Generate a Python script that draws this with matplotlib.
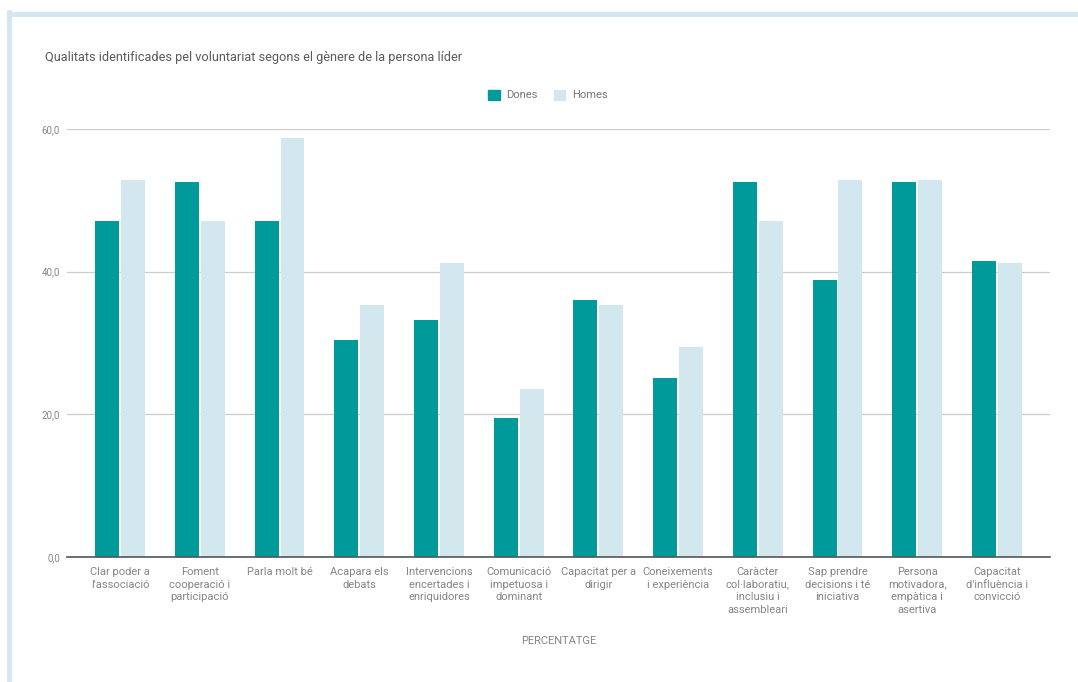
import numpy as np
import matplotlib.pyplot as plt
from matplotlib.lines import Line2D

plt.rcParams['font.family'] = ['Roboto', 'DejaVu Sans']

# data
categories = ["Clar poder a\nl'associació", "Foment\ncooperació i\nparticipació",
              "Parla molt bé", "Acapara els\ndebats",
              "Intervencions\nencertades i\nenriquidores",
              "Comunicació\nimpetuosa i\ndominant", "Capacitat per a\ndirigir",
              "Coneixements\ni experiència",
              "Caràcter\ncol·laboratiu,\ninclusiu i\nassembleari",
              "Sap prendre\ndecisions i té\niniciativa",
              "Persona\nmotivadora,\nempàtica i\nasertiva",
              "Capacitat\nd'influència i\nconvicció"]
dones = [47.1, 52.6, 47.1, 30.4, 33.2, 19.5, 36.0, 25.1, 52.6, 38.8, 52.6, 41.5]
homes = [52.9, 47.1, 58.8, 35.3, 41.2, 23.5, 35.3, 29.4, 47.1, 52.9, 52.9, 41.2]
yticks = [0, 20, 40, 60]
ytick_labels = ["0,0", "20,0", "40,0", "60,0"]

teal = '#009a9a'
light = '#d3e8ee'
grey = '#858585'

fig = plt.figure(figsize=(10.78, 6.82), dpi=100)
ax = fig.add_axes([0.0622, 0.1833, 0.9118, 0.6276])

x = np.arange(len(categories))
w = 0.30
ax.bar(x - w/2 - 0.012, dones, w, color=teal, label='Dones', zorder=3)
ax.bar(x + w/2 + 0.012, homes, w, color=light, label='Homes', zorder=3)

ax.set_xlim(-0.666, len(categories) - 1 + 0.666)
ax.set_ylim(0, 60)
ax.set_yticks(yticks)
ax.set_yticklabels(ytick_labels, fontsize=7, color=grey)
ax.yaxis.grid(True, color='#cccccc', lw=0.9, zorder=0)
ax.set_xticks(x)
ax.set_xticklabels(categories, fontsize=8, color=grey, linespacing=1.35, va='top')
ax.tick_params(axis='both', length=0)
ax.tick_params(axis='x', pad=7)
ax.tick_params(axis='y', pad=5)
for s in ['top', 'right', 'left']:
    ax.spines[s].set_visible(False)
ax.spines['bottom'].set_color('#555555')
ax.spines['bottom'].set_linewidth(1.2)
ax.spines['bottom'].set_zorder(4)

ax.set_xlabel('PERCENTATGE', fontsize=8, color=grey)
ax.xaxis.set_label_coords(0.5, -0.184)

fig.text(45/1078, 1 - 58/682, 'Qualitats identificades pel voluntariat segons el gènere de la persona líder',
         fontsize=9.2, color='#5a5a5a', va='center')

handles = [plt.Rectangle((0, 0), 1, 1, color=teal), plt.Rectangle((0, 0), 1, 1, color=light)]
fig.legend(handles, ['Dones', 'Homes'], loc='center', bbox_to_anchor=(548/1078, 1 - 95/682),
           ncol=2, frameon=False, fontsize=8, labelcolor='#757575', handlelength=1.0,
           handleheight=1.0, handletextpad=0.6, columnspacing=1.5)

# light frame around the chart
fig.add_artist(Line2D([9/1078, 9/1078], [0, 1 - 12/682], color=light, lw=3.5))
fig.add_artist(Line2D([9/1078, 1], [1 - 14/682, 1 - 14/682], color=light, lw=3.5))

fig.savefig('out.png', dpi=100)
